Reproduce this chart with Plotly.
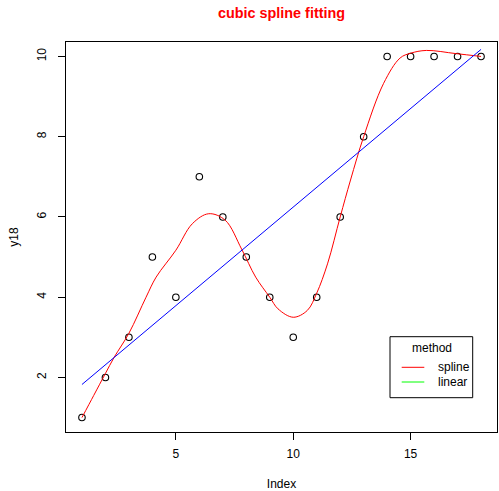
import plotly.graph_objects as go

# observed data
index = list(range(1, 19))
y18 = [1, 2, 3, 5, 4, 7, 6, 5, 4, 3, 4, 6, 8, 10, 10, 10, 10, 10]

# spline curve
spline_x = [1.0, 1.5, 2.0, 2.37, 3.0, 3.73, 4.16, 5.0, 5.7, 6.4, 7.1, 7.8, 8.4, 9.0, 9.35,
            10.0, 10.6, 11.0, 11.46, 12.0, 12.44, 13.0, 13.85, 14.55, 15.0, 15.67, 16.94, 18.0]
spline_y = [1.0, 1.55, 2.1, 2.5, 3.1, 4.0, 4.5, 5.17, 5.83, 6.08, 5.92, 5.2, 4.5, 4.0, 3.71,
            3.5, 3.67, 4.1, 4.83, 6.0, 6.92, 8.0, 9.33, 9.96, 10.08, 10.15, 10.07, 10.0]

# linear fit end points
linear_x = [1, 18]
linear_y = [1.824, 10.176]

x_ticks = [5, 10, 15]
y_ticks = [2, 4, 6, 8, 10]

FONT = "Liberation Sans, Arial, sans-serif"

fig = go.Figure()
fig.add_trace(go.Scatter(x=index, y=y18, mode="markers",
                         marker=dict(symbol="circle-open", size=6.5, color="black",
                                     line=dict(width=1.1, color="black")),
                         showlegend=False, hoverinfo="skip"))
fig.add_trace(go.Scatter(x=spline_x, y=spline_y, mode="lines",
                         line=dict(color="#FF0000", width=1, shape="spline", smoothing=1.0),
                         showlegend=False))
fig.add_trace(go.Scatter(x=linear_x, y=linear_y, mode="lines",
                         line=dict(color="#0000FF", width=1), showlegend=False))

W, H = 499, 491
L, R, T, B = 66, 2, 42, 59

fig.update_layout(
    width=W, height=H,
    margin=dict(l=L, r=R, t=T, b=B),
    paper_bgcolor="white", plot_bgcolor="white",
    font=dict(family=FONT, size=12, color="black"),
    title=dict(text="<b>cubic spline fitting</b>", x=(L + (W - R)) / 2 / W, xanchor="center",
               y=1 - 13 / H, yanchor="middle",
               font=dict(family=FONT, size=14.4, color="#FF0000")),
    xaxis=dict(range=[0.32, 18.68], tickvals=x_ticks, ticks="outside", ticklen=7,
               tickcolor="black", showline=True, linecolor="black", linewidth=1,
               mirror=True, showgrid=False, zeroline=False, ticklabelstandoff=4,
               title=dict(text="Index", standoff=20, font=dict(size=12))),
    yaxis=dict(range=[0.64, 10.36], tickvals=y_ticks, ticks="outside", ticklen=7,
               tickcolor="black", showline=True, linecolor="black", linewidth=1,
               mirror=True, showgrid=False, zeroline=False, tickangle=-90,
               ticklabelstandoff=7,
               title=dict(text="y18", standoff=14, font=dict(size=12))),
)

# legend box (drawn manually to match base-R style)
def px2paper_x(px):
    return (px - L) / (W - L - R)

def px2paper_y(py):
    return 1 - (py - T) / (H - T - B)

fig.add_shape(type="rect", xref="paper", yref="paper",
              x0=px2paper_x(390), x1=px2paper_x(472.7),
              y0=px2paper_y(397.7), y1=px2paper_y(336.7),
              line=dict(color="black", width=1), fillcolor="white")
fig.add_annotation(text="method", xref="paper", yref="paper",
                   x=px2paper_x(431.7), y=px2paper_y(347.5),
                   xanchor="center", yanchor="middle", showarrow=False,
                   font=dict(size=12, family=FONT))
legend_items = [("spline", "#FF0000", 367.3), ("linear", "#00FF00", 382)]
for label, col, py in legend_items:
    fig.add_shape(type="line", xref="paper", yref="paper",
                  x0=px2paper_x(401.7), x1=px2paper_x(424.3),
                  y0=px2paper_y(py), y1=px2paper_y(py),
                  line=dict(color=col, width=1))
    fig.add_annotation(text=label, xref="paper", yref="paper",
                       x=px2paper_x(435.7), y=px2paper_y(py),
                       xanchor="left", yanchor="middle", showarrow=False,
                       font=dict(size=12, family=FONT))

fig.write_html("out.html")
